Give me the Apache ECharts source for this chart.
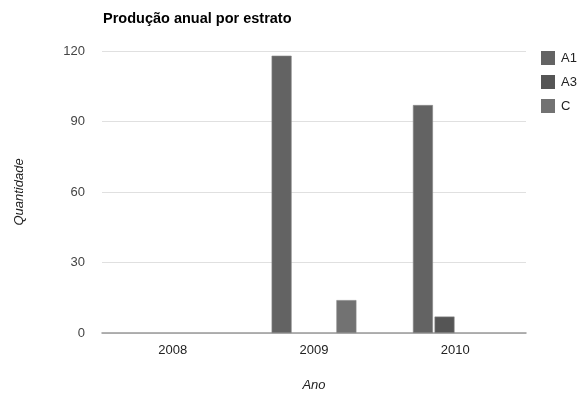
<!DOCTYPE html>
<html><head><meta charset="utf-8">
<script src="https://cdn.jsdelivr.net/npm/echarts@6/dist/echarts.min.js"></script>
<style>html,body{margin:0;padding:0;background:#fff}#c{width:581px;height:393px}</style>
</head><body><div id="c"></div>
<script>
var categories = ['2008', '2009', '2010'];
var seriesNames = ['A1', 'A3', '', 'C'];
var a1 = [null, 118, 97];
var a3 = [null, null, 7];
var hidden = [null, null, null];
var c = [null, 14, null];
var yTicks = [0, 30, 60, 90, 120];
var colors = ['#636363', '#555555', '#666666', '#727272'];
var seriesData = [a1, a3, hidden, c];

var chart = echarts.init(document.getElementById('c'), null, {renderer: 'canvas'});
var font = 'Liberation Sans, Arial, sans-serif';
chart.setOption({
  animation: false,
  title: {text: 'Produção anual por estrato', left: 98, top: 6,
    textStyle: {fontFamily: font, fontSize: 14.5, fontWeight: 'bold', color: '#000'}},
  legend: {data: ['A1', 'A3', 'C'], orient: 'vertical', left: 536, top: 46,
    itemWidth: 14, itemHeight: 14, itemGap: 10, icon: 'rect',
    itemStyle: {borderWidth: 0},
    textStyle: {fontFamily: font, fontSize: 13, color: '#222', padding: [0, 0, 0, 1]}},
  grid: {left: 102, right: 55, top: 51, bottom: 60, containLabel: false, outerBoundsMode: 'none'},
  xAxis: {type: 'category', data: categories, name: 'Ano', nameLocation: 'middle', nameGap: 46,
    nameTextStyle: {fontFamily: font, fontSize: 13, fontStyle: 'italic', color: '#222'},
    axisLine: {lineStyle: {color: '#999', width: 1.5}}, axisTick: {show: false},
    axisLabel: {fontFamily: font, fontSize: 13, color: '#222', margin: 11}},
  yAxis: {type: 'value', min: yTicks[0], max: yTicks[yTicks.length - 1], interval: 30,
    name: 'Quantidade', nameLocation: 'middle', nameGap: 76, nameRotate: 90,
    nameTextStyle: {fontFamily: font, fontSize: 13, fontStyle: 'italic', color: '#222'},
    axisLine: {show: false}, axisTick: {show: false},
    axisLabel: {fontFamily: font, fontSize: 13, color: '#444', margin: 17},
    splitLine: {lineStyle: {color: '#e0e0e0', width: 1}}},
  series: seriesData.map(function (d, i) {
    return {name: seriesNames[i], type: 'bar', data: d, barCategoryGap: '40%', barGap: '8%',
      itemStyle: {color: colors[i], borderColor: '#888', borderWidth: 0.6}};
  })
});
</script></body></html>
